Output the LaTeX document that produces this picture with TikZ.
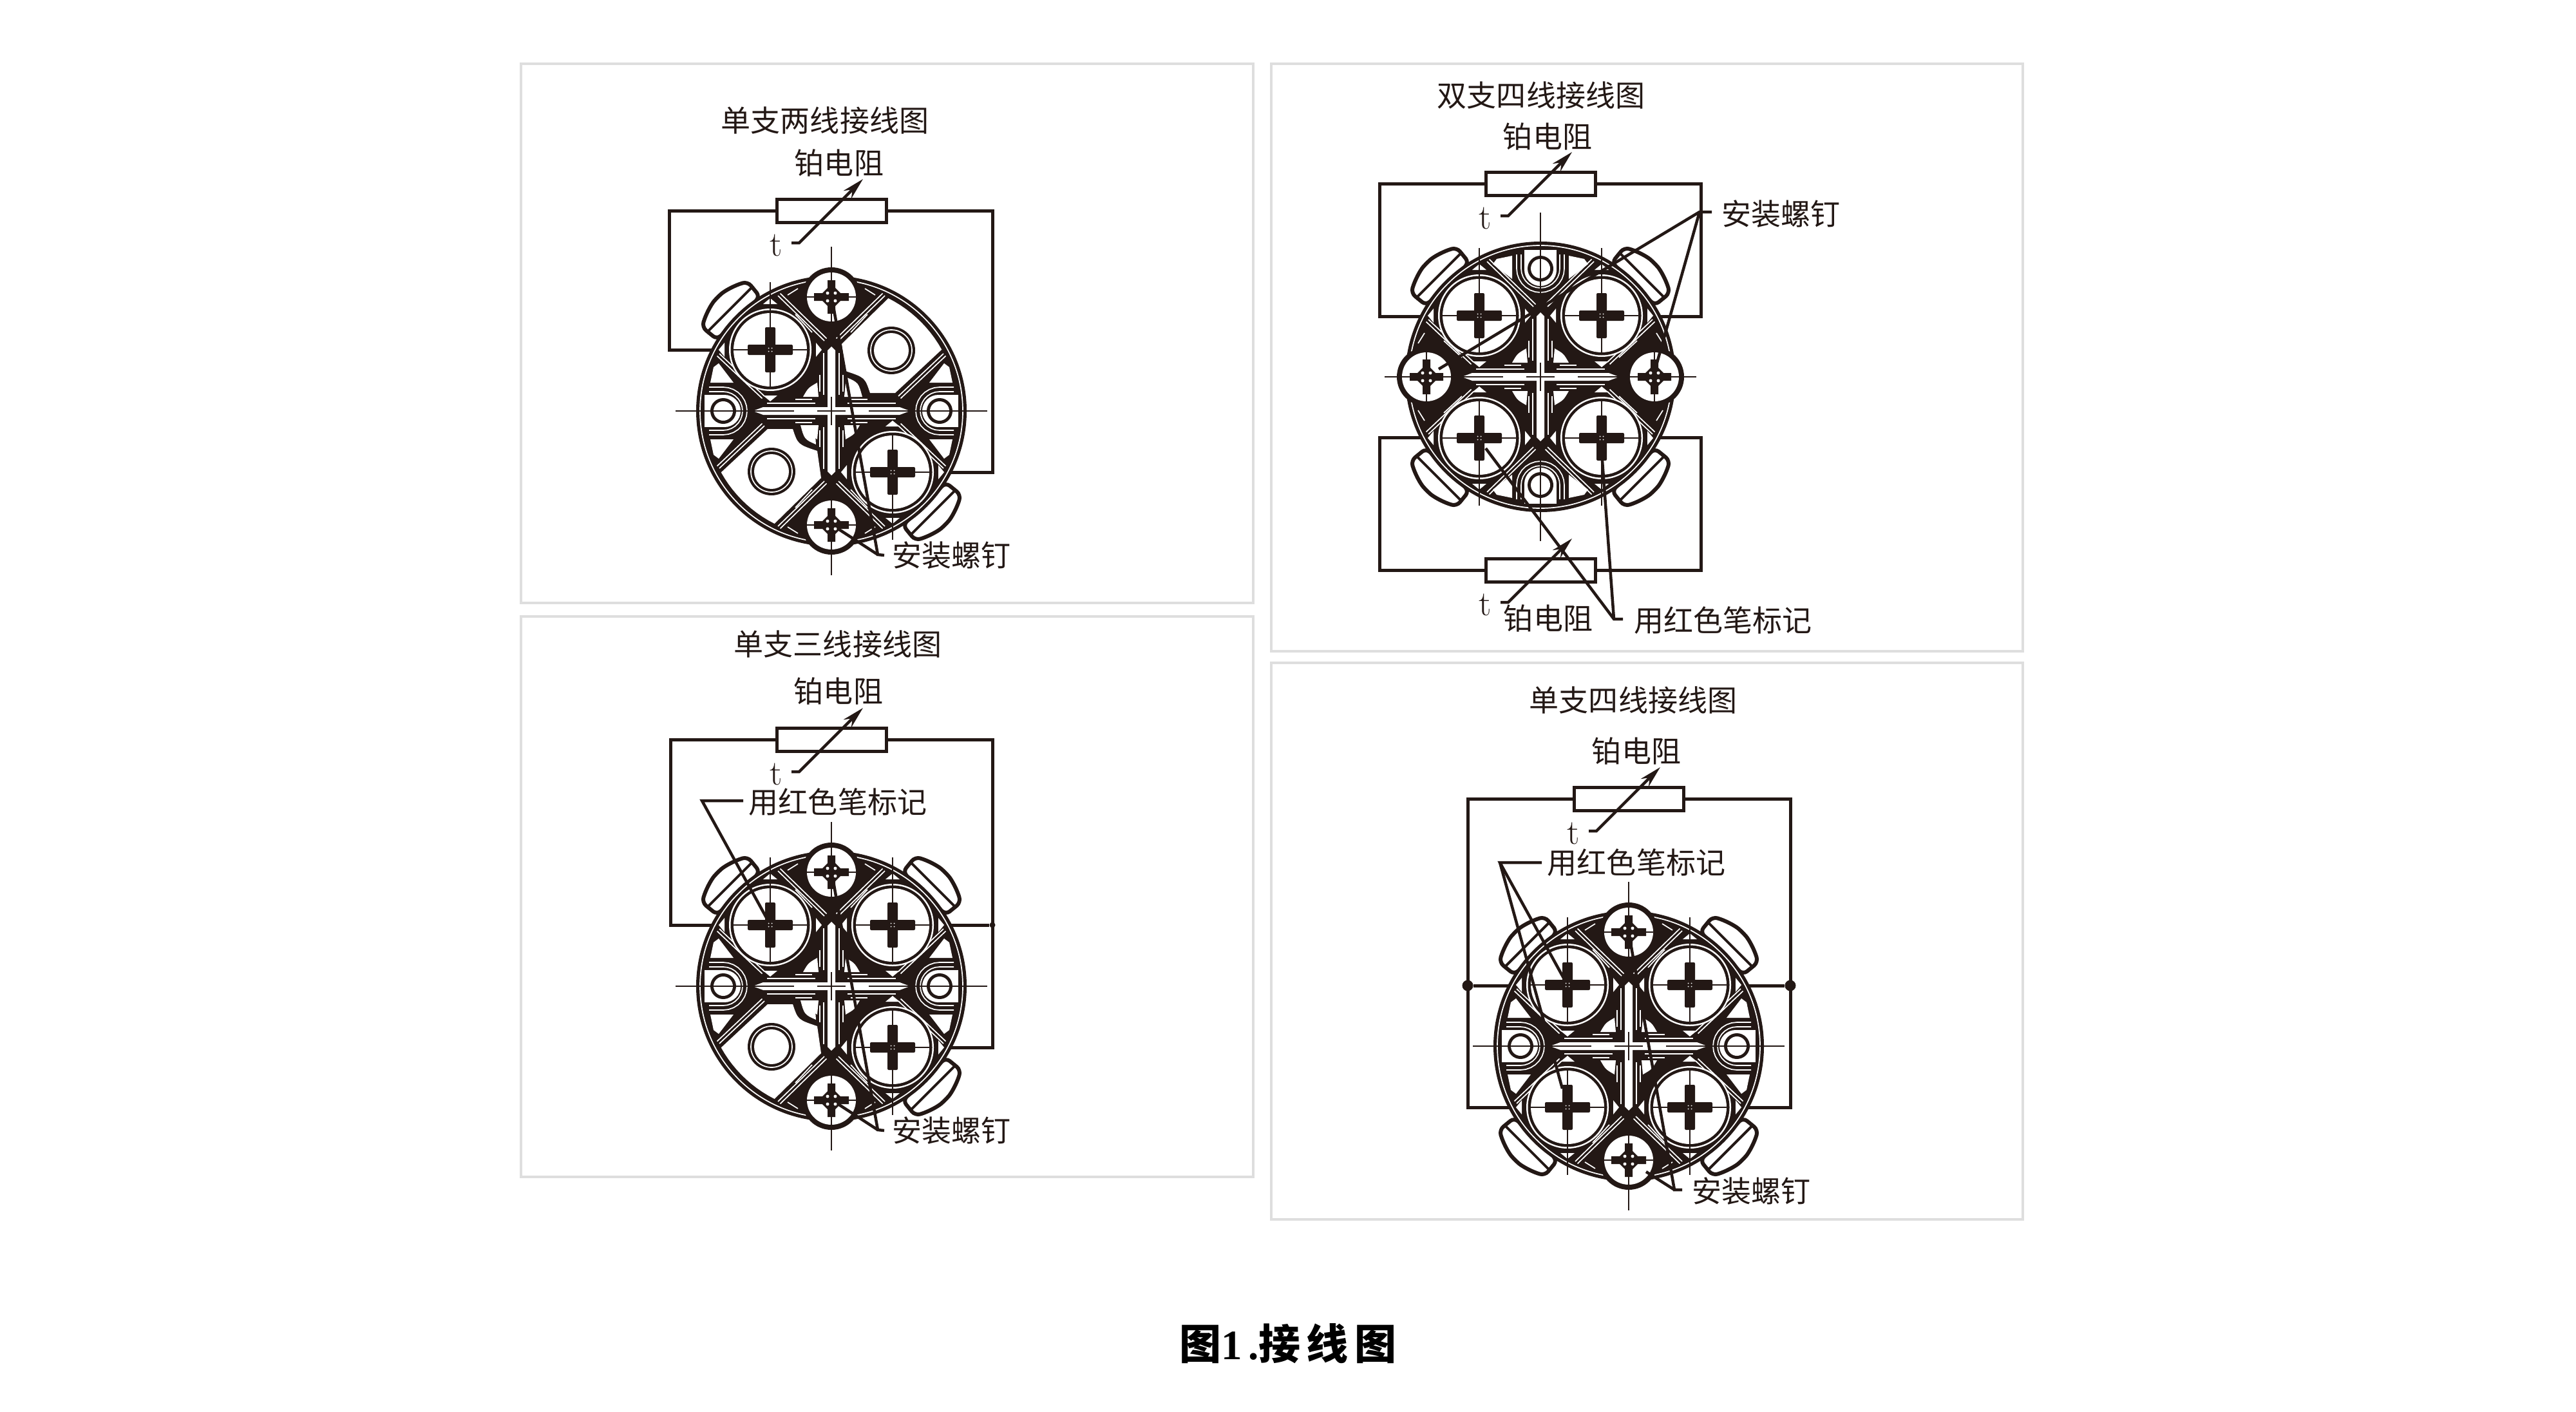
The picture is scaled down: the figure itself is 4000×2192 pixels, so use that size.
\documentclass[tikz,border=0pt]{standalone}
\usepackage{fontspec}
\newfontfamily\cjk{Noto Sans CJK SC}
\newfontfamily\capfont[LetterSpace=14]{Noto Sans CJK SC}
\newfontfamily\capdigit[LetterSpace=14]{Liberation Serif}
\usetikzlibrary{arrows.meta}
\definecolor{inkcolor}{HTML}{231815}
\definecolor{panelcolor}{HTML}{DEDEDE}
\tikzset{
    panel/.style={draw=panelcolor, line width=0.4mm},
    wire/.style={draw=inkcolor, line width=0.5mm},
    leader/.style={draw=inkcolor, line width=0.45mm},
    thinline/.style={draw=inkcolor, line width=0.25mm},
    hatch/.style={draw=white, line width=0.17mm},
    resbox/.style={draw=inkcolor, fill=white, line width=0.5mm, minimum width=17mm, minimum height=3.6mm, inner sep=0pt},
    lab/.style={text=inkcolor, inner sep=0pt, font=\cjk\fontsize{13.1pt}{15pt}\selectfont},
    tlab/.style={text=inkcolor, inner sep=0pt, font=\normalfont\fontsize{15.5pt}{17pt}\selectfont},
    dot/.style={circle, fill=inkcolor, minimum size=1.7mm, inner sep=0pt}
}

% Resistor box with its slanted arrow and the small t
\newcommand{\sensor}[3]{
    \node[resbox] (#1) at (#2,#3) {};
    \coordinate (#1s) at ([shift={(-62,50)}]#1.center);
    \coordinate (#1b) at ([shift={(-50,50)}]#1.center);
    \coordinate (#1e) at ([shift={(49,-49)}]#1.center);
    \draw[leader, -{Stealth[length=3.4mm,width=1.7mm]}] (#1s) -- (#1b) -- (#1e);
    \node[tlab] (#1t) at ([shift={(-86,54)}]#1.center) {t};
}

% Hatching of one quadrant, written for the upper right one
\newcommand{\ribhatch}{
    \draw[hatch] (11,-109) -- (83,-179) (7.5,-112.5) -- (79.5,-182.5);
    \draw[hatch] (104,-23) -- (174,-89) (107.5,-19.5) -- (177.5,-85.5);
    \draw[hatch] (25,-12) -- (100,-12) (12,-25) -- (12,-90);
    \draw[hatch] (30,-18) -- (56,-18) (18,-30) -- (18,-56);
    \fill[white] (44,-22) .. controls (36,-36) .. (22,-44) -- (20,-22) -- cycle;
}

% Big cross screw, upper right quadrant
\newcommand{\bigscrew}{
    \fill[white] (84,-166) -- (106,-166) -- (95,-175) -- cycle;
    \fill[white] (84,-24) -- (106,-24) -- (95,-15) -- cycle;
    \fill[white] (166,-84) -- (166,-106) -- (175,-95) -- cycle;
    \fill[white] (24,-84) -- (24,-106) -- (15,-95) -- cycle;
    \fill[white] (95,-95) circle[radius=64];
    \fill[inkcolor] (95,-95) circle[radius=61.5];
    \fill[white] (95,-95) circle[radius=57];
    \draw[thinline] (95,-200) -- (95,-38) (38,-95) -- (152,-95);
    \fill[inkcolor, rounded corners=0.2mm] (60,-103) rectangle (130,-87) (87,-130) rectangle (103,-60);
    \foreach \dx in {-2.5,2.5} {
        \foreach \dy in {-2.5,2.5} {
            \fill[white] (95+\dx,-95+\dy) circle[radius=1];
        }
    }
}

% Small post on the +x side, seen from the centre
\newcommand{\sidepost}{
    \fill[white] (183,-68) -- (175,-74) -- (152,-44) -- (188,-44) -- cycle;
    \fill[white] (183,68) -- (175,74) -- (152,44) -- (188,44) -- cycle;
    \fill[white] (166,-25) -- (197,-25) -- (197,25) -- (166,25) -- cycle;
    \fill[white] (166,0) circle[radius=25];
    \fill[inkcolor] (168,0) circle[radius=20];
    \fill[white] (168,0) circle[radius=15];
    \foreach \r in {30,37} {
        \draw[hatch] (190,-\r) -- (168,-\r) -- plot[domain=270:90, samples=15] ({168+\r*cos(\x)},{\r*sin(\x)}) -- (190,\r);
    }
}

% Small mounting screw on the -y side
\newcommand{\sidescrew}{
    \fill[inkcolor] (0,-177) circle[radius=46];
    \fill[inkcolor] (-42,-158) .. controls (-25,-132) .. (0,-108) .. controls (25,-132) .. (42,-158) -- cycle;
    \draw[hatch] (52,-190) -- (68,-180) (-52,-190) -- (-68,-180) (30,-122) -- (56,-150) (-30,-122) -- (-56,-150);
    \fill[white] (0,-177) circle[radius=38];
    \draw[thinline] (-38,-177) -- (38,-177);
    \fill[inkcolor] (-27,-183) rectangle (27,-171) (-6,-203) rectangle (6,-151);
    \fill[inkcolor] (-20,-177) -- (0,-197) -- (20,-177) -- (0,-157) -- cycle;
    \foreach \dx in {-6,6} {
        \foreach \dy in {-6,6} {
            \fill[white] (\dx,-177+\dy) circle[radius=2.5];
        }
    }
}

% Ear of the plate, radial direction along +x
\newcommand{\plateear}{
    \draw[draw=inkcolor, line width=0.6mm, fill=white, rounded corners=0.8mm] (204,-47) -- (234,-50) .. controls (244,-32) and (249,-15) .. (250,0) .. controls (249,15) and (244,32) .. (234,50) -- (204,47) -- cycle;
    \draw[draw=inkcolor, line width=0.4mm] (223,-49) -- (223,49);
}

% The round plate: centre, turn of the side parts, screw quadrants
\newcommand{\termplate}[3]{
    \begin{scope}[shift={(#1)}]
        \foreach \sx/\sy in {#3} {
            \pgfmathsetmacro{\ang}{atan2(-\sy,\sx)}
            \begin{scope}[rotate=\ang]
                \plateear
            \end{scope}
        }
        \fill[inkcolor] (0,0) circle[radius=210];
        \draw[hatch] (0,0) circle[radius=204];
        \begin{scope}[rotate=#2]
            \foreach \s in {1,-1} {
                \begin{scope}[xscale=\s]
                    \sidepost
                \end{scope}
            }
        \end{scope}
        \foreach \sx in {1,-1} {
            \foreach \sy in {1,-1} {
                \begin{scope}[xscale=\sx, yscale=\sy]
                    \ribhatch
                \end{scope}
            }
        }
        \begin{scope}[rotate=#2]
            \foreach \s in {1,-1} {
                \begin{scope}[yscale=\s]
                    \sidescrew
                \end{scope}
            }
        \end{scope}
        % centre channel
        \fill[white] (-122,0) -- (-106,-6) -- (-6,-6) -- (-6,-94) -- (0,-100) -- (6,-94) -- (6,-6) -- (106,-6) -- (122,0) -- (106,6) -- (6,6) -- (6,94) -- (0,100) -- (-6,94) -- (-6,6) -- (-106,6) -- cycle;
        \foreach \sx/\sy in {#3} {
            \begin{scope}[xscale=\sx, yscale=-\sy]
                \bigscrew
            \end{scope}
        }
        \draw[thinline] (-242,0) -- (-58,0) (-22,0) -- (22,0) (58,0) -- (242,0);
        \draw[thinline] (0,-255) -- (0,-100) (0,-22) -- (0,22) (0,100) -- (0,255);
    \end{scope}
}

% Empty quadrant with its round post
\newcommand{\blankquad}[3]{
    \begin{scope}[shift={(#1)}, xscale=#2, yscale=-#3]
        \fill[white] (16,-104) -- plot[domain=-63.2:-29.1, samples=12] ({196*cos(\x)},{196*sin(\x)}) -- (99,-28) -- (60,-28) .. controls (52,-52) .. (22,-62) -- cycle;
        \fill[white] (24,-52) .. controls (42,-44) .. (48,-22) -- (26,-22) -- cycle;
        \fill[inkcolor] (93,-94) circle[radius=37];
        \draw[hatch] (93,-94) circle[radius=32];
        \fill[white] (93,-94) circle[radius=27];
    \end{scope}
}

\begin{document}
\begin{tikzpicture}[x=0.1mm, y=-0.1mm]
    \useasboundingbox (0,0) rectangle (4000,2192);
    \fill[white] (0,0) rectangle (4000,2192);

    % Panels
    \draw[panel] (809,99) rectangle (1946,936);
    \draw[panel] (809,957) rectangle (1946,1827);
    \draw[panel] (1974,99) rectangle (3141,1011);
    \draw[panel] (1974,1029) rectangle (3141,1893);

    % Single two wire
    \node[lab] (titlea) at (1281,187) {单支两线接线图};
    \coordinate (sa1) at (1196,543);
    \coordinate (sa2) at (1386,733);
    \coordinate (ca1) at (1039,543);
    \coordinate (ca2) at (1541,733);
    \sensor{ra}{1291}{327}
    \draw[wire] (ra.west) -| (ca1) -- (sa1);
    \draw[wire] (ra.east) -| (ca2) -- (sa2);
    \termplate{1291,638}{0}{-1/-1,1/1}
    \blankquad{1291,638}{1}{-1}
    \blankquad{1291,638}{-1}{1}
    \node[lab] (resa) at (1303,253) {铂电阻};
    \node[lab, anchor=west] (nailtexta) at (1385,862) {安装螺钉};
    \coordinate (na) at (1363,861);
    \coordinate (na1) at (1293,470);
    \coordinate (na2) at (1303,822);
    \draw[leader] (nailtexta.west) ++(-12,0) -- (na) -- (na1);
    \draw[leader] (na) -- (na2);

    % Single three wire
    \node[lab] (titleb) at (1301,1000) {单支三线接线图};
    \coordinate (sb1) at (1196,1436);
    \coordinate (sb2) at (1386,1436);
    \coordinate (sb3) at (1386,1626);
    \coordinate (cb1) at (1041,1436);
    \coordinate (cb3) at (1541,1626);
    \sensor{rb}{1291}{1148}
    \draw[wire] (rb.west) -| (cb1) -- (sb1);
    \draw[wire] (rb.east) -| (cb3) -- (sb3);
    \node[dot, minimum size=0.9mm] (db) at (1541,1436) {};
    \draw[wire] (db) -- (sb2);
    \termplate{1291,1531}{0}{-1/-1,1/-1,1/1}
    \blankquad{1291,1531}{-1}{1}
    \node[lab] (resb) at (1302,1073) {铂电阻};
    \node[lab] (redb) at (1301,1245) {用红色笔标记};
    \coordinate (mb) at (1090,1243);
    \coordinate (mb1) at (1193,1430);
    \draw[leader] (redb.west) ++(-8,-2) -- (mb) -- (mb1);
    \node[lab, anchor=west] (nailtextb) at (1385,1755) {安装螺钉};
    \coordinate (nb) at (1363,1754);
    \coordinate (nb1) at (1293,1363);
    \coordinate (nb2) at (1303,1715);
    \draw[leader] (nailtextb.west) ++(-12,0) -- (nb) -- (nb1);
    \draw[leader] (nb) -- (nb2);

    % Double four wire
    \node[lab] (titlec) at (2393,148) {双支四线接线图};
    \coordinate (sc1) at (2297,491);
    \coordinate (sc2) at (2487,491);
    \coordinate (sc3) at (2297,679);
    \coordinate (sc4) at (2487,679);
    \coordinate (cc1) at (2142,491);
    \coordinate (cc2) at (2641,491);
    \coordinate (cc3) at (2142,679);
    \coordinate (cc4) at (2641,679);
    \sensor{rc}{2392}{285}
    \sensor{rd}{2392}{885}
    \draw[wire] (rc.west) -| (cc1) -- (sc1);
    \draw[wire] (rc.east) -| (cc2) -- (sc2);
    \draw[wire] (rd.west) -| (cc3) -- (sc3);
    \draw[wire] (rd.east) -| (cc4) -- (sc4);
    \termplate{2392,585}{90}{-1/-1,1/-1,-1/1,1/1}
    \node[lab] (resc) at (2403,212) {铂电阻};
    \node[lab] (resd) at (2404,960) {铂电阻};
    \node[lab, anchor=west] (nailtextc) at (2673,332) {安装螺钉};
    \coordinate (nc) at (2639,329);
    \coordinate (nc1) at (2234,573);
    \coordinate (nc2) at (2571,570);
    \draw[leader] (nailtextc.west) ++(-15,-3) -- (nc) -- (nc1);
    \draw[leader] (nc) -- (nc2);
    \node[lab, anchor=west] (redc) at (2537,963) {用红色笔标记};
    \coordinate (mc) at (2506,961);
    \coordinate (mc1) at (2307,696);
    \coordinate (mc2) at (2488,715);
    \draw[leader] (redc.west) ++(-17,-2) -- (mc) -- (mc1);
    \draw[leader] (mc) -- (mc2);

    % Single four wire
    \node[lab] (titled) at (2536,1087) {单支四线接线图};
    \coordinate (se1) at (2434,1530);
    \coordinate (se2) at (2624,1530);
    \coordinate (se3) at (2434,1719);
    \coordinate (se4) at (2624,1719);
    \coordinate (ce3) at (2279,1719);
    \coordinate (ce4) at (2780,1719);
    \sensor{re}{2529}{1240}
    \draw[wire] (re.west) -| (ce3) -- (se3);
    \draw[wire] (re.east) -| (ce4) -- (se4);
    \node[dot] (de1) at (2279,1530) {};
    \node[dot] (de2) at (2780,1530) {};
    \draw[wire] (de1) -- (se1);
    \draw[wire] (de2) -- (se2);
    \termplate{2529,1624}{0}{-1/-1,1/-1,-1/1,1/1}
    \node[lab] (rese) at (2541,1166) {铂电阻};
    \node[lab] (rede) at (2541,1339) {用红色笔标记};
    \coordinate (me) at (2329,1339);
    \coordinate (me1) at (2430,1522);
    \coordinate (me2) at (2426,1690);
    \draw[leader] (rede.west) ++(-8,0) -- (me) -- (me1);
    \draw[leader] (me) -- (me2);
    \node[lab, anchor=west] (nailtexte) at (2627,1849) {安装螺钉};
    \coordinate (ne) at (2600,1847);
    \coordinate (ne1) at (2533,1470);
    \coordinate (ne2) at (2556,1819);
    \draw[leader] (nailtexte.west) ++(-15,-2) -- (ne) -- (ne1);
    \draw[leader] (ne) -- (ne2);

    % Caption
    \node[text=black, inner sep=0pt, font=\capfont\bfseries\fontsize{18.5pt}{21pt}\selectfont] (capt) at (2000,2086) {图{\capdigit\bfseries 1.}接线图};
\end{tikzpicture}
\end{document}
